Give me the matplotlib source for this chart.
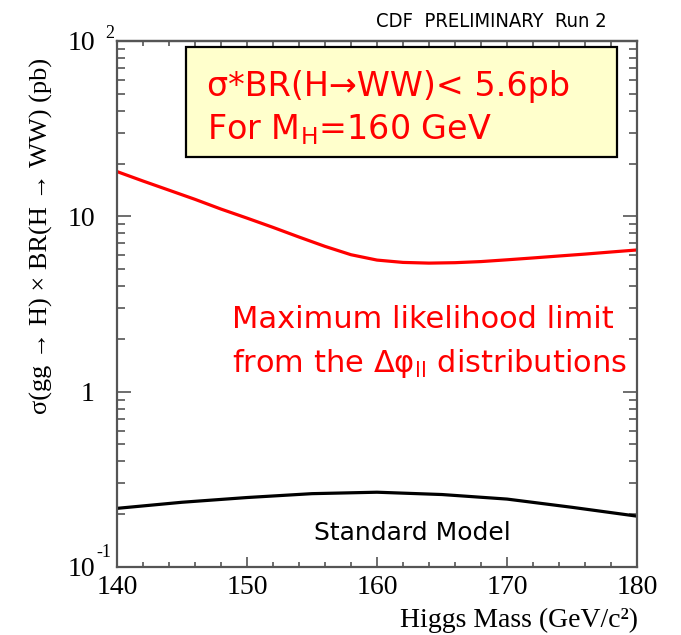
import numpy as np
import matplotlib
matplotlib.use('Agg')
import matplotlib.pyplot as plt
from matplotlib.ticker import MultipleLocator, LogLocator, NullFormatter, FixedLocator, FixedFormatter
from matplotlib.patches import Rectangle

# datos (pb)
masa = [140, 142, 144, 146, 148, 150, 152, 154, 156, 158, 160,
        162, 164, 166, 168, 170, 172, 174, 176, 178, 180]
limite = [18.0, 15.9, 14.1, 12.5, 11.0, 9.77, 8.65, 7.62, 6.74, 6.04, 5.63,
          5.46, 5.41, 5.44, 5.52, 5.65, 5.79, 5.94, 6.09, 6.26, 6.43]

masa_sm = [140, 145, 150, 155, 160, 165, 170, 175, 180]
modelo_std = [0.216, 0.234, 0.249, 0.262, 0.267, 0.259, 0.244, 0.219, 0.195]

xticks = [140, 150, 160, 170, 180]
yticks = [0.1, 1, 10, 100]
ytick_txt = ['10', '1', '10', '10']

W, H = 681, 635
plt.rcParams['mathtext.fontset'] = 'dejavusans'
plt.rcParams['mathtext.default'] = 'regular'
serif = ['Liberation Serif', 'DejaVu Serif']
gris = '#555555'

fig = plt.figure(figsize=(W / 100, H / 100), dpi=100)
ax = fig.add_axes([117 / W, 68 / H, 520 / W, 526 / H])
ax.set_yscale('log')
ax.set_xlim(140, 180)
ax.set_ylim(0.1, 100)

ax.plot(masa, limite, color='red', lw=2.3)
ax.plot(masa_sm, modelo_std, color='black', lw=2.3)

for s in ax.spines.values():
    s.set_color(gris)
    s.set_linewidth(1.6)

# ejes
ax.xaxis.set_major_locator(FixedLocator(xticks))
ax.xaxis.set_minor_locator(MultipleLocator(2))
ax.set_xticklabels([str(v) for v in xticks], fontfamily=serif, fontsize=20)
ax.yaxis.set_major_locator(FixedLocator(yticks))
ax.yaxis.set_major_formatter(FixedFormatter(ytick_txt))
ax.yaxis.set_minor_locator(LogLocator(base=10, subs=np.arange(2, 10)))
ax.yaxis.set_minor_formatter(NullFormatter())
for t in ax.get_yticklabels():
    t.set_fontfamily(serif)
    t.set_fontsize(20)

ax.tick_params(axis='x', which='major', direction='in', length=7, width=1.2, color=gris, pad=6, top=False)
ax.tick_params(axis='x', which='minor', direction='in', length=3.6, width=1.2, color=gris, top=False)
ax.tick_params(axis='y', which='major', direction='in', length=10, width=1.2, color=gris, pad=16, right=True)
ax.tick_params(axis='y', which='minor', direction='in', length=5.5, width=1.2, color=gris, right=True)

arriba = ax.secondary_xaxis('top')
arriba.xaxis.set_major_locator(MultipleLocator(2))
arriba.xaxis.set_major_formatter(NullFormatter())
arriba.tick_params(direction='in', length=3.6, width=1.2, color=gris)
arriba.spines['top'].set_color(gris)
arriba.spines['top'].set_linewidth(1.6)

# exponentes de 10^2 y 10^-1
fig.text(105 / W, 1 - 38 / H, '2', fontfamily=serif, fontsize=13)
fig.text(96 / W, 1 - 557 / H, '-1', fontfamily=serif, fontsize=13)

# caja amarilla
ax.add_patch(Rectangle((0.1327, 0.7795), 0.8288, 0.2091, transform=ax.transAxes,
                       facecolor='#ffffcc', edgecolor='black', lw=1.6, zorder=5))
fig.text(207 / W, 1 - 96 / H, 'σ*BR(H→WW)< 5.6pb', color='red', fontsize=24, va='baseline', zorder=6)
fig.text(207 / W, 1 - 139 / H, 'For M$_{H}$=160 GeV', color='red', fontsize=24, va='baseline', zorder=6)

fig.text(232 / W, 1 - 328 / H, 'Maximum likelihood limit', color='red', fontsize=22, va='baseline')
fig.text(232 / W, 1 - 372 / H, 'from the Δφ$_{ll}$ distributions', color='red', fontsize=22, va='baseline')

fig.text(412 / W, 1 - 540 / H, 'Standard Model', fontsize=18, ha='center', va='baseline')

fig.text(607 / W, 1 - 27 / H, 'CDF  PRELIMINARY  Run 2', fontfamily='DejaVu Sans', fontstretch='condensed',
         fontsize=14.5, ha='right', va='baseline')

fig.text(638 / W, 1 - 627 / H, 'Higgs Mass (GeV/c²)', fontfamily=serif, fontsize=20,
         ha='right', va='baseline')
fig.text(41 / W, 1 - 236 / H, 'σ(gg → H) × BR(H → WW) (pb)', fontfamily=serif, fontsize=19,
         rotation=90, ha='center', va='center')

fig.savefig('out.png', dpi=100)
